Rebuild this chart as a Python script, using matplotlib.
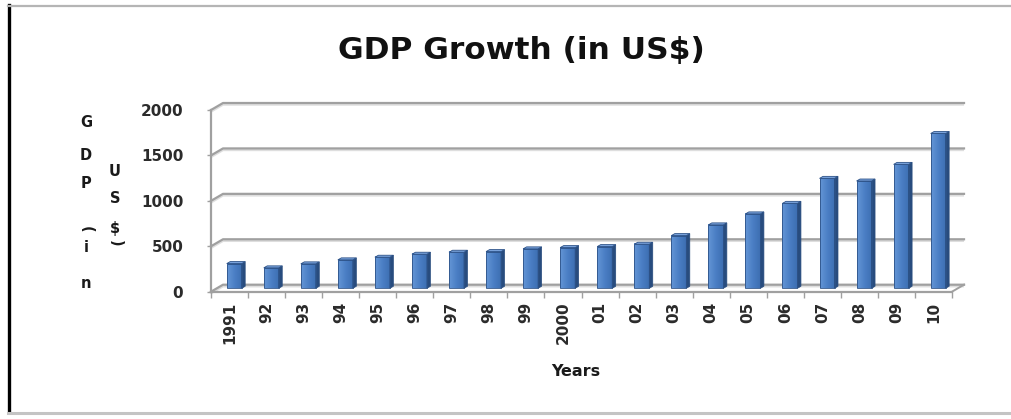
import matplotlib
matplotlib.use("Agg")
import matplotlib.pyplot as plt
from matplotlib.patches import Polygon
from matplotlib.lines import Line2D
import numpy as np

# ---- data -------------------------------------------------------------
years = ["1991", "92", "93", "94", "95", "96", "97", "98", "99", "2000",
         "01", "02", "03", "04", "05", "06", "07", "08", "09", "10"]
gdp = [272, 225, 269, 313, 342, 375, 397, 404, 434, 448,
       459, 485, 580, 698, 819, 935, 1210, 1181, 1364, 1704]
y_ticks = [0, 500, 1000, 1500, 2000]

title = "GDP Growth (in US$)"
x_title = "Years"

# ---- figure -----------------------------------------------------------
W, H = 1011, 419
fig = plt.figure(figsize=(W / 100, H / 100), dpi=100)
FONT = "DejaVu Sans"


def fx(px):
    return px / W


def fy(py):
    return 1 - py / H


# front plane of the 3-D box
ax = fig.add_axes([fx(211), fy(291.7), 741 / W, 181.7 / H])
ax.set_xlim(-0.5, len(years) - 0.5)
ax.set_ylim(0, 2000)
ax.patch.set_alpha(0)

# depth of the box (category units, value units)
DX, DY = 0.324, 77
# bar geometry
BAR_X0, BAR_W = -0.076, 0.405
BAR_BASE = 37.4
BAR_DX, BAR_DY = 0.094, 22

grid_c = "#a0a0a0"
shadow_c = "#dedede"

# back wall gridlines with their slanted joins to the value axis
x_left, x_right = -0.5, len(years) - 0.5
for v in y_ticks:
    xs = [x_left, x_left + DX, x_right + DX]
    ys = [v, v + DY, v + DY]
    ax.add_line(Line2D(xs, [y - 18 for y in ys], color=shadow_c, lw=1.6,
                       clip_on=False, zorder=1, solid_capstyle="butt"))
    ax.add_line(Line2D(xs, ys, color=grid_c, lw=1.6, clip_on=False,
                       zorder=2, solid_joinstyle="round"))

# right edge of the floor
ax.add_line(Line2D([x_right, x_right + DX], [0, DY], color=grid_c, lw=1.4,
                   clip_on=False, zorder=2))

# bars
front_c = "#4a7ec4"
light_c = "#6495d6"
side_c = "#284c7e"
top_c = "#7aa3dc"
edge_c = "#2d5287"
cmap = matplotlib.colors.LinearSegmentedColormap.from_list(
    "face", [light_c, front_c, "#3c6db0"])
for i, v in enumerate(gdp):
    xl = i + BAR_X0
    xr = xl + BAR_W
    y0 = BAR_BASE
    y1 = BAR_BASE + v
    # front face with a soft horizontal gradient
    grad = np.linspace(0, 1, 64).reshape(1, -1)
    im = ax.imshow(grad, cmap=cmap, aspect="auto", extent=[xl, xr, y0, y1],
                   zorder=4, clip_on=False, interpolation="bilinear")
    face = Polygon([[xl, y0], [xr, y0], [xr, y1], [xl, y1]], closed=True,
                   fc="none", ec=edge_c, lw=0.6, zorder=5, clip_on=False)
    ax.add_patch(face)
    im.set_clip_path(face)
    # side face
    ax.add_patch(Polygon([[xr, y0], [xr + BAR_DX, y0 + BAR_DY],
                          [xr + BAR_DX, y1 + BAR_DY], [xr, y1]], closed=True,
                         fc=side_c, ec=side_c, lw=0.5, zorder=4,
                         clip_on=False))
    # top face
    ax.add_patch(Polygon([[xl, y1], [xr, y1], [xr + BAR_DX, y1 + BAR_DY],
                          [xl + BAR_DX, y1 + BAR_DY]], closed=True,
                         fc=top_c, ec=edge_c, lw=0.6, zorder=5,
                         clip_on=False))

# axes, ticks and labels
for s in ("top", "right"):
    ax.spines[s].set_visible(False)
for s in ("left", "bottom"):
    ax.spines[s].set_color(grid_c)
    ax.spines[s].set_linewidth(1.6)
    ax.spines[s].set_zorder(3)

ax.set_yticks(y_ticks)
ax.set_yticklabels([str(t) for t in y_ticks], fontfamily=FONT,
                   fontweight="bold", fontsize=11, color="#2b2b2b")
ax.tick_params(axis="y", length=3, width=1, color=grid_c, pad=17)

ax.set_xticks(range(len(years)))
ax.set_xticklabels(years, rotation=90, fontfamily=FONT, fontweight="bold",
                   fontsize=11, color="#2b2b2b", va="top", ha="center")
ax.tick_params(axis="x", which="major", length=0, pad=7)
ax.set_xticks(np.arange(-0.5, len(years)), minor=True)
ax.tick_params(axis="x", which="minor", length=4, width=1, color=grid_c)

ax.set_xlabel(x_title, fontfamily=FONT, fontweight="bold", fontsize=11.5,
              color="#1a1a1a")
ax.xaxis.set_label_coords((576 - 211) / 741, -(371 - 291.7) / 181.7)
ax.xaxis.label.set_va("center")

# title
fig.text(fx(521), fy(51), title, fontfamily=FONT, fontweight="bold",
         fontsize=22.5, ha="center", va="center", color="#111111")

# stacked value-axis caption
col1 = [("G", 122, 0), ("D", 155, 0), ("P", 183, 0), ("(", 229, -90),
        ("i", 247, 0), ("n", 283, 0)]
col2 = [("U", 171, 0), ("S", 198, 0), ("$", 228, 0), (")", 243, -90)]
for x_px, col in ((86, col1), (115, col2)):
    for ch, y_px, rot in col:
        fig.text(fx(x_px), fy(y_px), ch, fontfamily=FONT, fontweight="bold",
                 fontsize=10.5, ha="center", va="center", rotation=rot,
                 rotation_mode="anchor", color="#1a1a1a")

# surrounding frame
fig.add_artist(Line2D([fx(8.5), fx(8.5)], [fy(5), fy(411)], color="black",
                      lw=2.4, transform=fig.transFigure))
fig.add_artist(Line2D([fx(8), fx(W)], [fy(6), fy(6)], color="#b5b5b5",
                      lw=1.6, transform=fig.transFigure))
fig.add_artist(Line2D([fx(8), fx(W)], [fy(412.5), fy(412.5)],
                      color="#c4c4c4", lw=2.2, transform=fig.transFigure))

fig.savefig("out.png", dpi=100)
